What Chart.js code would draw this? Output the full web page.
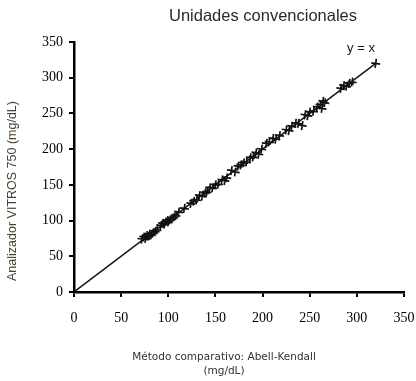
<!DOCTYPE html>
<html>
<head>
<meta charset="utf-8">
<script src="https://cdn.jsdelivr.net/npm/chart.js@4/dist/chart.umd.min.js"></script>
<style>
  html, body { margin: 0; padding: 0; background: #fff; }
  #wrap { width: 416px; height: 381px; }
</style>
</head>
<body>
<div id="wrap"><canvas id="cholChart"></canvas></div>
<script>
'use strict';

/* ── Data: comparison method (x) vs analyser (y), mg/dL ── */
const refValues = [
    72, 74, 76, 77, 79, 80, 82, 84, 86, 88,
    92, 94, 96, 97, 99, 100, 102, 104, 106, 108,
    111, 117,
    124, 127, 130, 133, 136, 139, 141,
    144, 147, 150, 153, 157, 160, 162,
    167, 171, 174, 177, 180, 183, 187, 190, 193, 196, 199,
    204, 207, 211, 214, 218,
    225, 228, 231, 235, 238, 242, 245, 248, 250,
    254, 258, 261, 263, 264, 266,
    283, 286, 289, 292, 295,
    320,
];
const vitrosValues = [
    74, 77, 75, 79, 78, 81, 80, 83, 85, 87,
    93, 96, 95, 98, 100, 98, 101, 103, 105, 107,
    112, 117,
    124, 127, 129, 135, 134, 139, 140,
    146, 146, 150, 151, 157, 156, 160,
    170, 168, 176, 178, 181, 182, 188, 189, 195, 193, 200,
    208, 210, 215, 214, 219,
    227, 226, 232, 236, 236, 233, 248, 247, 252,
    253, 259, 262, 257, 267, 265,
    285, 289, 288, 292, 294,
    320,
];
const identityLine = [0, 320];
const axisTicks = [0, 50, 100, 150, 200, 250, 300, 350];

const scatterPoints = refValues.map((x, i) => ({ x, y: vitrosValues[i] }));
const linePoints = identityLine.map(v => ({ x: v, y: v }));

/* ── Free text: title, y = x tag, axis titles ── */
const textPlugin = {
    id: 'chartTexts',
    afterDraw(chart) {
        const c = chart.ctx;
        c.save();
        c.textAlign = 'center';
        c.textBaseline = 'middle';

        c.fillStyle = '#2a2a2a';
        c.font = '16.5px "Liberation Sans", Arial, sans-serif';
        c.fillText('Unidades convencionales', 263, 16);

        c.fillStyle = '#1a1a1a';
        c.font = '13px "Liberation Sans", Arial, sans-serif';
        c.fillText('y = x', 361, 48);

        c.fillStyle = '#3a3030';
        c.font = '10.5px "DejaVu Sans", Verdana, sans-serif';
        c.fillText('Método comparativo: Abell-Kendall', 224, 357);
        c.fillText('(mg/dL)', 224, 371);

        c.fillStyle = '#4a4030';
        c.font = '12.5px "Liberation Sans", Arial, sans-serif';
        c.translate(13, 191);
        c.rotate(-Math.PI / 2);
        c.fillText('Analizador VITROS 750 (mg/dL)', 0, 0);
        c.restore();
    },
};

const tickFont = { family: '"Liberation Serif", "Times New Roman", serif', size: 14 };

new Chart(document.getElementById('cholChart'), {
    type: 'scatter',
    data: {
        datasets: [
            {
                label: 'Muestras',
                data: scatterPoints,
                pointStyle: 'cross',
                rotation: 8,
                pointRadius: 4.5,
                borderColor: '#111',
                borderWidth: 1.7,
                backgroundColor: '#111',
            },
            {
                label: 'y = x',
                type: 'line',
                data: linePoints,
                borderColor: '#111',
                borderWidth: 1.4,
                pointRadius: 0,
                fill: false,
            },
        ],
    },
    options: {
        responsive: true,
        maintainAspectRatio: false,
        animation: false,
        layout: { padding: { left: 0, top: 42, right: 12, bottom: 0 } },
        plugins: {
            legend: { display: false },
            tooltip: { enabled: false },
        },
        scales: {
            x: {
                type: 'linear',
                min: 0,
                max: 350,
                afterBuildTicks: s => { s.ticks = axisTicks.map(v => ({ value: v })); },
                afterFit: s => { s.height = 89; s.paddingRight = 0; s.paddingLeft = 0; },
                border: { color: '#000', width: 2.5 },
                grid: { drawOnChartArea: false, drawTicks: true, tickLength: 5, color: '#000', lineWidth: 2 },
                ticks: { color: '#000', font: tickFont, padding: 13, maxRotation: 0 },
            },
            y: {
                type: 'linear',
                min: 0,
                max: 350,
                afterBuildTicks: s => { s.ticks = axisTicks.map(v => ({ value: v })); },
                afterFit: s => { s.width = 74; s.paddingTop = 0; s.paddingBottom = 0; },
                border: { color: '#000', width: 2.5 },
                grid: { drawOnChartArea: false, drawTicks: true, tickLength: 5, color: '#000', lineWidth: 2 },
                ticks: { color: '#000', font: tickFont, padding: 6 },
            },
        },
    },
    plugins: [textPlugin],
});
</script>
</body>
</html>
